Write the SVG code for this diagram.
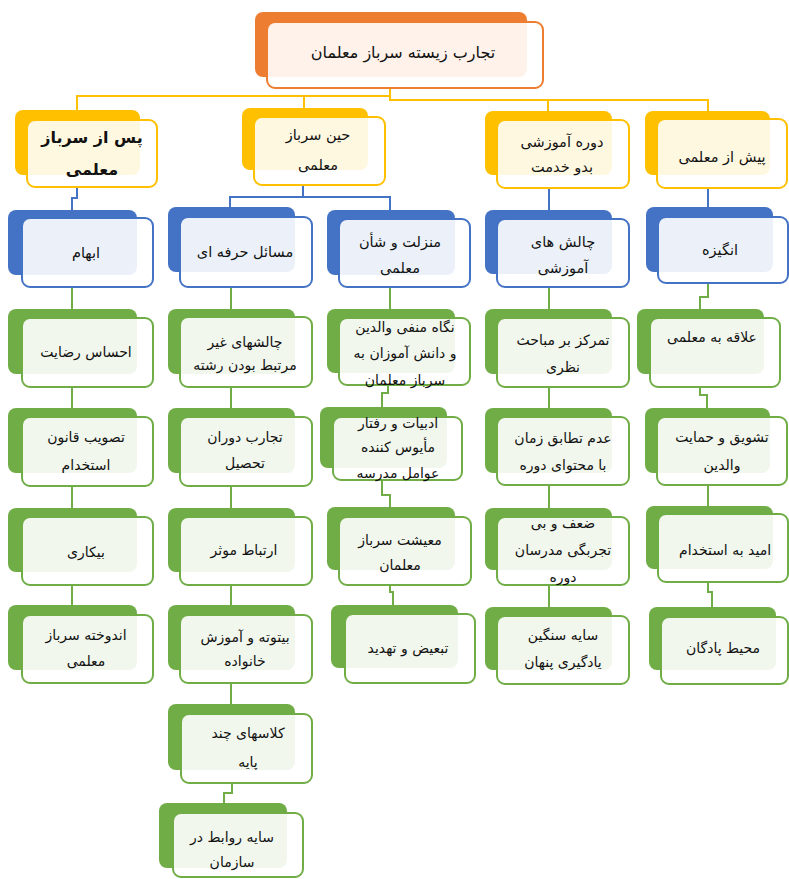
<svg xmlns="http://www.w3.org/2000/svg" width="789" height="879" viewBox="0 0 789 879">
<style>
.bo{fill:#ED7D31}.fo{fill:#fff;fill-opacity:.9;stroke:#ED7D31;stroke-width:2}
.by{fill:#FFC000}.fy{fill:#fff;fill-opacity:.88;stroke:#FFC000;stroke-width:2}
.bb{fill:#4472C4}.fb{fill:#fff;fill-opacity:.9;stroke:#4472C4;stroke-width:2}
.bg{fill:#70AD47}.fg{fill:#fff;fill-opacity:.9;stroke:#70AD47;stroke-width:2}
text{font-family:"DejaVu Sans",sans-serif;font-size:14px;fill:#111;text-anchor:middle;direction:rtl}
.t1{font-size:14.5px}
.t0{font-size:16px}
.tb{font-size:16px;font-weight:bold}
.cy{fill:none;stroke:#FFC000;stroke-width:2}
.cb{fill:none;stroke:#4472C4;stroke-width:2}
.cg{fill:none;stroke:#70AD47;stroke-width:2}
</style>
<g id="connectors">
<path class="cy" d="M390 88V96H77V110"/>
<path class="cy" d="M390 88V96H304V108"/>
<path class="cy" d="M390 88V100H548V111"/>
<path class="cy" d="M390 88V100H708V111"/>
<path class="cb" d="M77 187V198H72V210"/>
<path class="cb" d="M303 185V197H230V207"/>
<path class="cb" d="M303 197H390V210"/>
<path class="cb" d="M549 188V210"/>
<path class="cb" d="M708 188V207"/>
<path class="cg" d="M72 287V309M72 387V408M72 486V508M72 585V605"/>
<path class="cg" d="M231 287V309M231 387V408M231 486V508M231 585V605M231 683V704"/>
<path class="cg" d="M232 783V793H224V803"/>
<path class="cg" d="M390 287V309"/>
<path class="cg" d="M388 385V393H382V407"/>
<path class="cg" d="M382 480V495H390V507"/>
<path class="cg" d="M390 585V592H393V605"/>
<path class="cg" d="M549 287V309M549 387V408M549 485V508M549 585V607"/>
<path class="cg" d="M708 283V297H700V309"/>
<path class="cg" d="M700 387V395H707V408"/>
<path class="cg" d="M708 485V506"/>
<path class="cg" d="M708 582V592H712V607"/>
</g>
<g id="root"><rect class="bo" x="255" y="12" width="272" height="65" rx="8"/><rect class="fo" x="267" y="22" width="276" height="66" rx="8"/><text class="t0" x="403" y="58">تجارب زیسته سرباز معلمان</text></g>
<g id="after"><rect class="by" x="15" y="110" width="125" height="65" rx="8"/><rect class="fy" x="27" y="120" width="130" height="67" rx="8"/><text class="tb" x="92" y="143">پس از سرباز</text><text class="tb" x="92" y="175">معلمی</text></g>
<g id="during"><rect class="by" x="242" y="108" width="126" height="62" rx="8"/><rect class="fy" x="254" y="117" width="131" height="68" rx="8"/><text class="t1" x="318" y="140">حین سرباز</text><text class="t1" x="318" y="170">معلمی</text></g>
<g id="course"><rect class="by" x="485" y="111" width="127" height="64" rx="8"/><rect class="fy" x="497" y="120" width="132" height="68" rx="8"/><text class="t1" x="562" y="147">دوره آموزشی</text><text class="t1" x="562" y="172">بدو خدمت</text></g>
<g id="before"><rect class="by" x="645" y="111" width="125" height="64" rx="8"/><rect class="fy" x="657" y="119" width="130" height="69" rx="8"/><text class="t1" x="722" y="162">پیش از معلمی</text></g>
<g id="ambiguity"><rect class="bb" x="8" y="210" width="129" height="65" rx="8"/><rect class="fb" x="22" y="218" width="131" height="69" rx="8"/><text class="t1" x="86" y="258">ابهام</text></g>
<g id="professional"><rect class="bb" x="168" y="207" width="127" height="65" rx="8"/><rect class="fb" x="180" y="217" width="132" height="70" rx="8"/><text class="t1" x="245" y="257">مسائل حرفه ای</text></g>
<g id="status"><rect class="bb" x="327" y="210" width="128" height="65" rx="8"/><rect class="fb" x="339" y="219" width="131" height="68" rx="8"/><text class="t1" x="400" y="247">منزلت و شأن</text><text class="t1" x="400" y="273">معلمی</text></g>
<g id="challenges"><rect class="bb" x="485" y="210" width="127" height="64" rx="8"/><rect class="fb" x="497" y="219" width="132" height="68" rx="8"/><text class="t1" x="563" y="247">چالش های</text><text class="t1" x="563" y="273">آموزشی</text></g>
<g id="motivation"><rect class="bb" x="646" y="207" width="127" height="65" rx="8"/><rect class="fb" x="658" y="217" width="130" height="66" rx="8"/><text class="t1" x="720" y="255">انگیزه</text></g>
<g id="a1"><rect class="bg" x="8" y="309" width="129" height="65" rx="8"/><rect class="fg" x="22" y="318" width="131" height="69" rx="8"/><text x="86" y="357">احساس رضایت</text></g>
<g id="a2"><rect class="bg" x="8" y="408" width="129" height="65" rx="8"/><rect class="fg" x="22" y="417" width="131" height="69" rx="8"/><text x="86" y="442">تصویب قانون</text><text x="86" y="470">استخدام</text></g>
<g id="a3"><rect class="bg" x="8" y="508" width="129" height="64" rx="8"/><rect class="fg" x="22" y="517" width="131" height="68" rx="8"/><text x="86" y="557">بیکاری</text></g>
<g id="a4"><rect class="bg" x="8" y="605" width="129" height="65" rx="8"/><rect class="fg" x="22" y="615" width="131" height="68" rx="8"/><text x="86" y="640">اندوخته سرباز</text><text x="86" y="666">معلمی</text></g>
<g id="b1"><rect class="bg" x="168" y="309" width="127" height="65" rx="8"/><rect class="fg" x="180" y="317" width="132" height="70" rx="8"/><text x="245" y="347">چالشهای غیر</text><text x="245" y="370">مرتبط بودن رشته</text></g>
<g id="b2"><rect class="bg" x="168" y="408" width="127" height="65" rx="8"/><rect class="fg" x="180" y="417" width="132" height="69" rx="8"/><text x="245" y="442">تجارب دوران</text><text x="245" y="468">تحصیل</text></g>
<g id="b3"><rect class="bg" x="168" y="508" width="127" height="64" rx="8"/><rect class="fg" x="180" y="517" width="132" height="68" rx="8"/><text x="244" y="555">ارتباط موثر</text></g>
<g id="b4"><rect class="bg" x="168" y="605" width="127" height="65" rx="8"/><rect class="fg" x="180" y="615" width="132" height="68" rx="8"/><text x="245" y="642">بیتوته و آموزش</text><text x="245" y="666">خانواده</text></g>
<g id="b5"><rect class="bg" x="168" y="704" width="127" height="66" rx="8"/><rect class="fg" x="181" y="714" width="131" height="69" rx="8"/><text x="248" y="738">کلاسهای چند</text><text x="248" y="767">پایه</text></g>
<g id="b6"><rect class="bg" x="159" y="803" width="128" height="65" rx="8"/><rect class="fg" x="173" y="813" width="130" height="64" rx="8"/><text x="232" y="842">سایه روابط در</text><text x="232" y="867">سازمان</text></g>
<g id="c1"><rect class="bg" x="327" y="309" width="128" height="64" rx="8"/><rect class="fg" x="339" y="318" width="131" height="67" rx="8"/><text x="405" y="332">نگاه منفی والدین</text><text x="405" y="358">و دانش آموزان به</text><text x="405" y="385">سرباز معلمان</text></g>
<g id="c2"><rect class="bg" x="320" y="407" width="127" height="61" rx="8"/><rect class="fg" x="333" y="417" width="129" height="63" rx="8"/><text x="398" y="428">ادبیات و رفتار</text><text x="398" y="452">مأیوس کننده</text><text x="398" y="478">عوامل مدرسه</text></g>
<g id="c3"><rect class="bg" x="327" y="507" width="128" height="63" rx="8"/><rect class="fg" x="339" y="517" width="132" height="68" rx="8"/><text x="400" y="545">معیشت سرباز</text><text x="400" y="570">معلمان</text></g>
<g id="c4"><rect class="bg" x="331" y="605" width="127" height="63" rx="8"/><rect class="fg" x="345" y="614" width="130" height="69" rx="8"/><text x="408" y="653">تبعیض و تهدید</text></g>
<g id="d1"><rect class="bg" x="485" y="309" width="127" height="65" rx="8"/><rect class="fg" x="497" y="318" width="132" height="69" rx="8"/><text x="563" y="345">تمرکز بر مباحث</text><text x="563" y="372">نظری</text></g>
<g id="d2"><rect class="bg" x="485" y="408" width="127" height="65" rx="8"/><rect class="fg" x="497" y="417" width="132" height="68" rx="8"/><text x="563" y="443">عدم تطابق زمان</text><text x="563" y="470">با محتوای دوره</text></g>
<g id="d3"><rect class="bg" x="485" y="508" width="127" height="62" rx="8"/><rect class="fg" x="497" y="517" width="132" height="68" rx="8"/><text x="563" y="528">ضعف و بی</text><text x="563" y="555">تجربگی مدرسان</text><text x="563" y="582">دوره</text></g>
<g id="d4"><rect class="bg" x="485" y="607" width="127" height="63" rx="8"/><rect class="fg" x="497" y="616" width="132" height="68" rx="8"/><text x="563" y="640">سایه سنگین</text><text x="563" y="667">یادگیری پنهان</text></g>
<g id="e1"><rect class="bg" x="637" y="309" width="127" height="65" rx="8"/><rect class="fg" x="650" y="318" width="130" height="69" rx="8"/><text x="712" y="342">علاقه به معلمی</text></g>
<g id="e2"><rect class="bg" x="645" y="408" width="125" height="65" rx="8"/><rect class="fg" x="657" y="417" width="130" height="68" rx="8"/><text x="722" y="442">تشویق و حمایت</text><text x="722" y="470">والدین</text></g>
<g id="e3"><rect class="bg" x="646" y="506" width="127" height="63" rx="8"/><rect class="fg" x="658" y="514" width="130" height="68" rx="8"/><text x="725" y="555">امید به استخدام</text></g>
<g id="e4"><rect class="bg" x="649" y="607" width="127" height="63" rx="8"/><rect class="fg" x="661" y="617" width="127" height="67" rx="8"/><text x="723" y="653">محیط پادگان</text></g>
</svg>
